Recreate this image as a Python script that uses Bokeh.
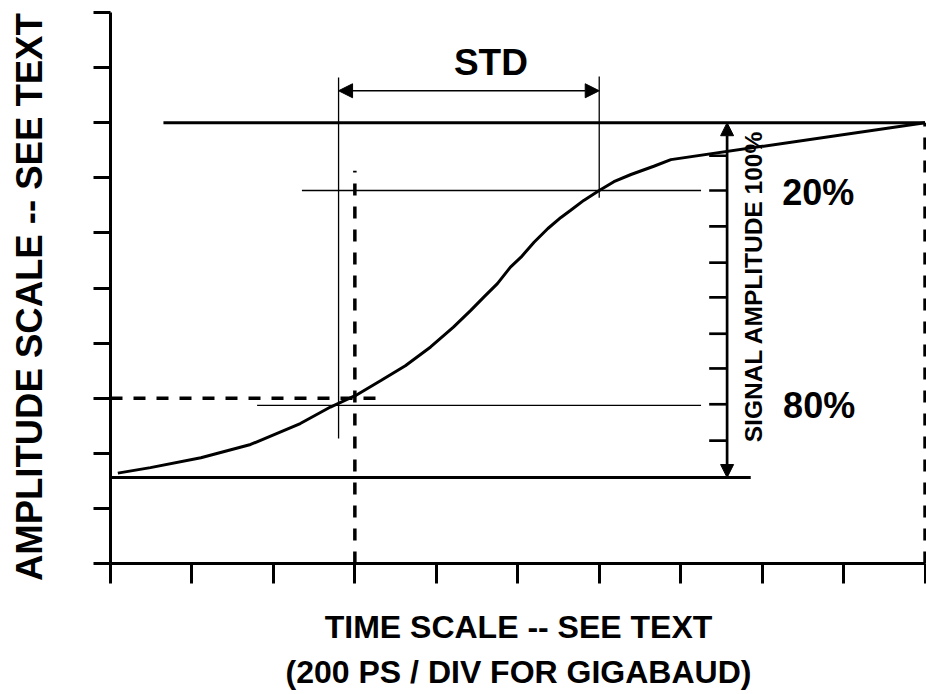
from bokeh.plotting import figure
from bokeh.models import Range1d, FixedTicker, Label, Arrow, NormalHead, LinearAxis
from bokeh.embed import file_html
from bokeh.resources import INLINE

# ---- data (divisions) ----
div_ticks = [0, 1, 2, 3, 4, 5, 6, 7, 8, 9, 10]

t_curve = [0.09, 0.49, 1.11, 1.72, 2.33, 2.70, 3.01, 3.32, 3.62, 3.93, 4.21, 4.42, 4.58,
           4.75, 4.91, 5.04, 5.20, 5.37, 5.53, 5.65, 5.81, 5.99, 6.18, 6.39, 6.67, 6.88, 10.0]
v_curve = [1.64, 1.74, 1.92, 2.16, 2.54, 2.84, 3.05, 3.32, 3.59, 3.93, 4.29, 4.59, 4.83,
           5.08, 5.38, 5.56, 5.83, 6.08, 6.28, 6.41, 6.59, 6.76, 6.93, 7.06, 7.21, 7.33, 8.0]

# baseline (0%) and top (100%) levels
level_y = [1.56, 8.0]
level_x0 = [0.0, 0.65]
level_x1 = [7.86, 10.0]

# 80% / 20% crossing reference lines
cross_y = [2.87, 6.77]
cross_x0 = [1.80, 2.35]
cross_x1 = [7.25, 7.25]

# vertical STD markers
std_x = [2.80, 6.00]
std_y0 = [2.27, 6.64]
std_y1 = [8.82, 8.84]
std_arrow_y = 8.58

# dashed guide lines
dash_x0 = [3.0, 0.0, 10.0]
dash_x1 = [3.0, 3.35, 10.0]
dash_y0 = [0.0, 3.0, 0.0]
dash_y1 = [7.13, 3.0, 8.0]

# signal amplitude scale
amp_x = 7.57
amp_tick_x0 = 7.35
amp_ticks = [2.23, 2.89, 3.54, 4.17, 4.83, 5.46, 6.12, 6.77, 7.40]

y_title = "AMPLITUDE SCALE -- SEE TEXT"
x_title = "TIME SCALE -- SEE TEXT\n(200 PS / DIV FOR GIGABAUD)"

FONT = "Liberation Sans"

p = figure(width=926, height=694, output_backend="svg", toolbar_location=None,
           x_range=Range1d(0, 10.018), y_range=Range1d(0, 10.218),
           min_border_left=110, min_border_right=0, min_border_top=0, min_border_bottom=131)
p.grid.visible = False
p.outline_line_color = None
p.background_fill_color = "white"
p.border_fill_color = "white"

for ax in (p.xaxis[0], p.yaxis[0]):
    ax.ticker = FixedTicker(ticks=div_ticks)
    ax.bounds = (0, 10)
    ax.major_tick_in = 0
    ax.minor_tick_line_color = None
    ax.axis_line_width = 3
    ax.major_tick_line_width = 3
    ax.axis_line_color = "black"
    ax.major_tick_line_color = "black"
    ax.major_label_overrides = {t: "" for t in div_ticks}
    ax.major_label_text_font_size = "0px"
    ax.major_label_standoff = 0
p.xaxis.major_tick_out = 20
p.yaxis.major_tick_out = 17

# x axis title (two lines)
p.xaxis.axis_label = x_title
p.xaxis.axis_label_text_font = FONT
p.xaxis.axis_label_text_font_style = "bold"
p.xaxis.axis_label_text_font_size = "32px"
p.xaxis.axis_label_text_color = "black"
p.xaxis.axis_label_text_line_height = 1.27
p.xaxis.axis_label_standoff = 25

# y title on an extra, invisible axis further out; trailing no-break spaces
# shift the visible words slightly downwards, as in the reference
ylab_axis = LinearAxis(ticker=FixedTicker(ticks=[]),
                       axis_line_color=None, major_tick_line_color=None,
                       minor_tick_line_color=None, major_tick_out=0, major_tick_in=0,
                       major_label_text_font_size="0px", major_label_standoff=0,
                       axis_label=y_title + "\u00a0\u00a0\u00a0", axis_label_text_font=FONT,
                       axis_label_text_font_style="bold", axis_label_text_font_size="36.5px",
                       axis_label_text_color="black", axis_label_standoff=44)
p.add_layout(ylab_axis, "left")

# curve
p.line(t_curve, v_curve, line_width=3, line_color="black")

# levels
p.segment(x0=level_x0, x1=level_x1, y0=level_y, y1=level_y, line_width=3, line_color="black")
# crossing lines
p.segment(x0=cross_x0, x1=cross_x1, y0=cross_y, y1=cross_y, line_width=1.3, line_color="black")
# std vertical markers
p.segment(x0=std_x, x1=std_x, y0=std_y0, y1=std_y1, line_width=1.3, line_color="black")
# dashed lines
p.segment(x0=dash_x0, x1=dash_x1, y0=dash_y0, y1=dash_y1, line_width=3.5,
          line_color="black", line_dash="12 11")
# amplitude ticks
p.segment(x0=[amp_tick_x0] * len(amp_ticks), x1=[amp_x] * len(amp_ticks),
          y0=amp_ticks, y1=amp_ticks, line_width=2.7, line_color="black")

# arrows
def head(sz):
    return NormalHead(size=sz, fill_color="black", line_color="black", line_width=1)

p.add_layout(Arrow(x_start=std_x[0], y_start=std_arrow_y, x_end=std_x[1], y_end=std_arrow_y,
                   line_width=1.3, line_color="black", start=head(14), end=head(14)))
p.add_layout(Arrow(x_start=amp_x, y_start=level_y[0], x_end=amp_x, y_end=level_y[1],
                   line_width=2.7, line_color="black", start=head(13), end=head(13)))

def lab(x, y, text, size, angle=0):
    p.add_layout(Label(x=x, y=y, text=text, text_font=FONT, text_font_style="bold",
                       text_font_size=f"{size}px", text_color="black",
                       text_align="center", text_baseline="middle",
                       angle=angle, angle_units="deg"))

lab(4.67, 9.09, "STD", 37)
lab(8.69, 6.73, "20%", 36)
lab(8.70, 2.87, "80%", 36)
lab(7.90, 5.03, "SIGNAL AMPLITUDE 100%", 24.5, angle=90)

open("out.html", "w").write(file_html(p, INLINE))
